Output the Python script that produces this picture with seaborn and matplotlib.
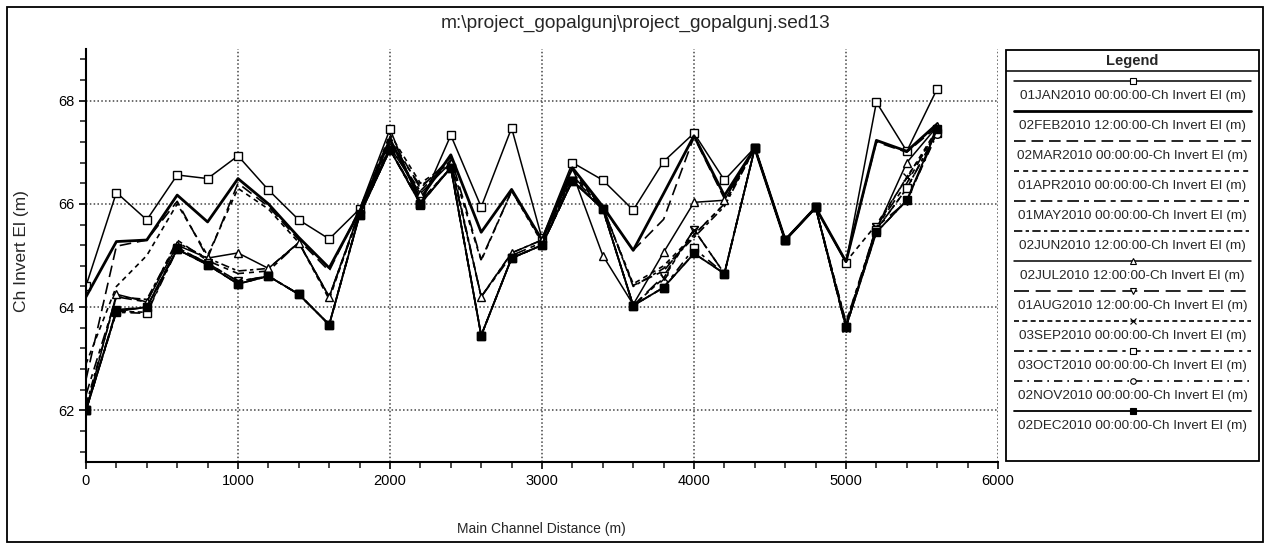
import numpy as np
import pandas as pd
import matplotlib
matplotlib.use("Agg")
import matplotlib.pyplot as plt
from matplotlib.ticker import MultipleLocator, AutoMinorLocator
from matplotlib.patches import Rectangle
import seaborn as sns

sns.set_style("white")
plt.rcParams["font.family"] = ["Liberation Sans", "DejaVu Sans"]

# ---- data ----
distance = [0, 200, 400, 600, 800, 1000, 1200, 1400, 1600, 1800, 2000, 2200, 2400, 2600, 2800,
            3000, 3200, 3400, 3600, 3800, 4000, 4200, 4400, 4600, 4800, 5000, 5200, 5400, 5600]

jan = [64.41, 66.22, 65.69, 66.56, 66.49, 66.93, 66.27, 65.69, 65.32, 65.90, 67.45, 65.98, 67.33, 65.94, 67.47,
       65.33, 66.80, 66.46, 65.88, 66.82, 67.37, 66.46, 67.09, 65.30, 65.93, 64.86, 67.97, 67.02, 68.23]
feb = [64.20, 65.27, 65.30, 66.17, 65.65, 66.49, 66.00, 65.35, 64.76, 65.85, 67.25, 66.10, 66.95, 65.45, 66.28,
       65.30, 66.70, 65.95, 65.10, 66.20, 67.32, 66.16, 67.08, 65.30, 65.93, 64.88, 67.23, 67.02, 67.55]
mar = [62.60, 65.18, 65.30, 66.05, 64.95, 66.40, 65.95, 65.30, 64.70, 65.90, 67.30, 66.30, 66.90, 64.92, 66.25,
       65.30, 66.65, 65.93, 65.10, 65.70, 67.30, 66.10, 67.08, 65.30, 65.93, 64.88, 67.20, 67.00, 67.50]
apr = [62.90, 64.40, 65.00, 66.00, 65.00, 66.30, 65.90, 65.25, 64.15, 65.85, 67.35, 66.40, 66.80, 64.90, 66.25,
       65.25, 66.60, 65.93, 64.45, 64.80, 65.40, 66.00, 67.08, 65.30, 65.93, 64.88, 65.60, 66.50, 67.45]
may = [62.30, 64.20, 64.10, 65.30, 64.90, 64.65, 64.70, 65.25, 64.20, 65.80, 67.20, 66.35, 66.75, 64.20, 65.00,
       65.25, 66.55, 65.93, 64.42, 64.70, 65.40, 66.00, 67.08, 65.30, 65.93, 63.70, 65.55, 66.40, 67.45]
jun = [62.10, 64.20, 64.15, 65.25, 64.95, 64.70, 64.75, 65.25, 64.20, 65.85, 67.10, 66.25, 66.85, 64.20, 65.05,
       65.30, 66.50, 65.95, 64.40, 64.75, 65.35, 65.95, 67.08, 65.30, 65.93, 63.70, 65.50, 66.30, 67.40]
jul = [62.00, 64.25, 64.10, 65.20, 64.95, 65.05, 64.75, 65.25, 64.20, 65.85, 67.10, 66.20, 66.80, 64.20, 65.05,
       65.30, 66.60, 65.00, 64.05, 65.06, 66.03, 66.07, 67.08, 65.30, 65.93, 63.65, 65.50, 66.80, 67.50]
aug = [62.00, 63.95, 64.00, 65.15, 64.85, 64.50, 64.60, 64.25, 63.66, 65.80, 67.05, 66.05, 66.70, 63.45, 64.95,
       65.20, 66.45, 65.90, 64.03, 64.60, 65.50, 64.65, 67.08, 65.30, 65.93, 63.60, 65.55, 66.05, 67.40]
sep = [62.00, 63.92, 63.90, 65.15, 64.85, 64.50, 64.60, 64.25, 63.66, 65.80, 67.05, 66.05, 66.70, 63.45, 64.95,
       65.20, 66.45, 65.90, 64.03, 64.56, 65.50, 64.65, 67.08, 65.30, 65.93, 63.60, 65.55, 66.52, 67.38]
oct_ = [62.00, 63.90, 63.88, 65.12, 64.82, 64.45, 64.60, 64.25, 63.66, 65.78, 67.05, 66.00, 66.70, 63.45, 64.95,
        65.20, 66.45, 65.90, 64.03, 64.38, 65.14, 64.65, 67.08, 65.30, 65.93, 63.62, 65.50, 66.30, 67.38]
nov = [62.00, 63.92, 64.00, 65.12, 64.82, 64.45, 64.60, 64.25, 63.66, 65.78, 67.05, 66.00, 66.70, 63.45, 64.95,
       65.20, 66.45, 65.90, 64.03, 64.38, 65.04, 64.65, 67.08, 65.30, 65.93, 63.62, 65.45, 66.07, 67.36]
dec = [62.00, 63.92, 64.00, 65.12, 64.82, 64.45, 64.60, 64.25, 63.66, 65.78, 67.05, 66.00, 66.70, 63.45, 64.95,
       65.20, 66.45, 65.90, 64.03, 64.38, 65.04, 64.65, 67.08, 65.30, 65.93, 63.62, 65.45, 66.07, 67.45]

profile_names = ["01JAN2010 00:00:00", "02FEB2010 12:00:00", "02MAR2010 00:00:00", "01APR2010 00:00:00",
                 "01MAY2010 00:00:00", "02JUN2010 12:00:00", "02JUL2010 12:00:00", "01AUG2010 12:00:00",
                 "03SEP2010 00:00:00", "03OCT2010 00:00:00", "02NOV2010 00:00:00", "02DEC2010 00:00:00"]
profiles = [jan, feb, mar, apr, may, jun, jul, aug, sep, oct_, nov, dec]

# line style per profile: (linestyle, marker, marker face, linewidth)
styles = [
    ("-", "s", "white", 1.1),
    ("-", "", "white", 2.0),
    ((0, (7, 3.5)), "", "white", 1.2),
    ((0, (3, 2.5)), "", "white", 1.2),
    ((0, (7, 3, 3, 3)), "", "white", 1.2),
    ((0, (5, 2, 2, 2)), "", "white", 1.2),
    ("-", "^", "white", 1.1),
    ((0, (9, 4)), "v", "white", 1.2),
    ((0, (3, 2)), "x", "white", 1.2),
    ((0, (6, 3, 2, 3)), "s", "white", 1.2),
    ((0, (5, 3, 1, 3)), "o", "white", 1.2),
    ("-", "s", "black", 1.3),
]

W, H = 1266, 546
fig = plt.figure(figsize=(W / 100, H / 100), dpi=100)
ax = fig.add_axes([86 / W, 84 / H, 912 / W, 413 / H])

for name, vals, (ls, mk, mfc, lw) in zip(profile_names, profiles, styles):
    df = pd.DataFrame({"distance": distance, "elev": vals})
    sns.lineplot(data=df, x="distance", y="elev", ax=ax, color="black", estimator=None,
                 sort=False, errorbar=None, legend=False, linestyle=ls, linewidth=lw,
                 marker=mk if mk else None, markersize=5.5, markerfacecolor=mfc,
                 markeredgecolor="black", markeredgewidth=1.0)

ax.set_xlim(0, 6000)
ax.set_ylim(61, 69)
ax.xaxis.set_major_locator(MultipleLocator(1000))
ax.xaxis.set_minor_locator(MultipleLocator(200))
ax.yaxis.set_major_locator(MultipleLocator(2))
ax.yaxis.set_minor_locator(AutoMinorLocator(5))
ax.grid(True, which="major", color="#444444", linestyle=(0, (1, 1.5)), linewidth=1.1)
ax.tick_params(which="major", direction="out", length=5, width=1.2, labelsize=10.5, colors="black")
ax.tick_params(which="minor", direction="out", length=4, width=1.2)
ax.tick_params(axis="y", which="both", left=True)
ax.tick_params(axis="x", which="both", bottom=True)
for s in ["top", "right"]:
    ax.spines[s].set_visible(False)
for s in ["left", "bottom"]:
    ax.spines[s].set_color("black")
    ax.spines[s].set_linewidth(1.5)

ax.set_xlabel("Main Channel Distance (m)", fontsize=10)
ax.set_ylabel("Ch Invert El (m)", fontsize=12.5)
ax.xaxis.set_label_coords(0.499, -0.145)
ax.yaxis.set_label_coords(-0.063, 0.511)

# title is centred on the whole window, not on the plot area
fig.text(636 / W, 1 - 23 / H, r"m:\project_gopalgunj\project_gopalgunj.sed13",
         ha="center", va="center", fontsize=13.8)

# outer frame
fig.patches.append(Rectangle((7 / W, 4 / H), 1256 / W, 535 / H, transform=fig.transFigure,
                             fill=False, edgecolor="black", linewidth=1.3))

# legend panel
lax = fig.add_axes([1006 / W, 85 / H, 253 / W, 411 / H])
lax.set_xlim(0, 1)
lax.set_ylim(411, 0)
lax.axis("off")
lax.add_patch(Rectangle((0, 0), 1, 411, fill=False, edgecolor="black", linewidth=1.3, clip_on=False))
lax.plot([0, 1], [21, 21], color="black", linewidth=1.1)
lax.text(0.5, 10.5, "Legend", ha="center", va="center", fontsize=10.5, fontweight="bold")
for k, (name, (ls, mk, mfc, lw)) in enumerate(zip(profile_names, styles)):
    y = 31 + 30 * k
    lax.plot([0.03, 0.97], [y, y], color="black", linestyle=ls, linewidth=lw)
    if mk:
        lax.plot([0.5], [y], marker=mk, markersize=4, markerfacecolor=mfc,
                 markeredgecolor="black", markeredgewidth=0.8, linestyle="none")
    lax.text(0.5, y + 15.5, f"{name}-Ch Invert El (m)", ha="center", va="center", fontsize=9.7)

fig.savefig("out.png", dpi=100)
